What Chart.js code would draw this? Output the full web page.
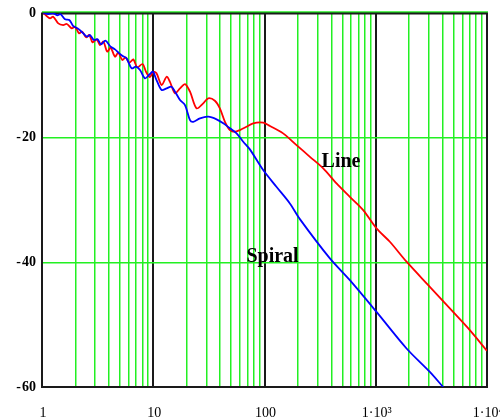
<!DOCTYPE html>
<html>
<head>
<meta charset="utf-8">
<script src="https://cdn.jsdelivr.net/npm/chart.js@4/dist/chart.umd.min.js"></script>
<style>
  html, body { margin: 0; padding: 0; background: #ffffff; }
  #wrap { width: 500px; height: 419px; }
</style>
</head>
<body>
<div id="wrap"><canvas id="c" width="500" height="419"></canvas></div>
<script>
// ---- data (frequency, level) ----
const lineFreq = [1.03,1.10,1.18,1.26,1.40,1.55,1.67,1.85,1.98,2.15,2.30,2.49,2.66,2.85,3.10,3.32,3.56,3.86,4.14,4.53,4.85,5.27,5.65,6.09,6.62,7.18,8.02,8.60,9.33,10.0,
  10.7,11.9,13.2,14.1,15.7,17.4,19.3,21.4,24.5,28.1,31.2,35.8,39.7,44.1,48.9,54.2,60.1,69.0,79.1,97.3,112,147,194,256,337,444,585,771,1016,1339,1892,3063,4634,7003,10000];
const lineLevel = [0,-0.48,-0.86,-0.59,-1.66,-1.93,-1.77,-2.46,-2.19,-3.26,-3.0,-3.9,-3.53,-4.71,-4.22,-5.14,-4.6,-6.2,-5.56,-7.0,-6.37,-7.54,-7.12,-7.97,-7.44,-8.72,-8.19,-9.42,-10.3,-9.42,
  -9.68,-11.56,-10.22,-11.0,-12.89,-12.09,-11.4,-12.63,-15.3,-14.5,-13.69,-14.08,-15.3,-17.45,-18.78,-19.05,-18.78,-18.25,-17.7,-17.6,-18.14,-19.31,-21.19,-23.07,-24.93,-27.34,-29.49,-31.62,-34.56,-36.7,-39.9,-43.93,-47.4,-50.88,-54.2];

const spiralFreq = [1.03,1.14,1.26,1.37,1.47,1.61,1.76,1.91,2.08,2.22,2.38,2.55,2.70,2.93,3.16,3.39,3.71,4.14,4.53,4.95,5.31,5.76,6.39,7.0,7.6,8.42,9.15,9.8,
  10.0,10.7,11.9,13.2,14.6,15.7,17.4,19.3,21.4,22.9,26.3,31.2,37.1,42.6,48.9,56.1,64.4,73.9,97.3,128,169,208,387,585,1016,1892,3063,4034];
const spiralLevel = [0,-0.16,-0.05,-0.37,-0.21,-1.02,-1.12,-2.09,-2.46,-2.84,-3.37,-3.8,-3.53,-4.33,-4.22,-5.03,-4.44,-5.4,-5.83,-6.48,-6.9,-7.28,-8.88,-8.62,-9.15,-10.49,-9.95,-9.42,
  -9.42,-10.75,-12.36,-12.09,-11.83,-12.63,-13.96,-14.77,-17.17,-17.45,-16.9,-16.64,-17.06,-17.7,-18.5,-19.31,-20.65,-21.88,-25.2,-27.88,-30.55,-33.07,-39.37,-42.86,-47.95,-53.82,-57.58,-60];

const xTickValues = [1,10,100,1000,10000];
const xTickLabels = ['1','10','100','1\u00B710\u00B3','1\u00B710\u2074'];
const yTickValues = [0,-20,-40,-60];

const curveNames = ['Line','Spiral'];
const nameFreq = [326, 68.8];
const nameLevel = [-24.67, -40];

const GREEN = '#22f022';
const BLACK = '#1a1a1a';
const SERIF = '"Liberation Serif", "Times New Roman", serif';

function pts(xs, ys) { return xs.map((x, i) => ({ x: x, y: ys[i] })); }

// all 1..9 x decade positions for the grid
const gridTicks = [];
for (let d = 1; d <= 1000; d *= 10) for (let m = 1; m < 10; m++) gridTicks.push(m * d);
gridTicks.push(10000);

const frameAndNames = {
  id: 'frameAndNames',
  beforeDatasetsDraw(chart) {
    const { ctx, chartArea: a } = chart;
    ctx.save();
    ctx.strokeStyle = GREEN;
    ctx.lineWidth = 1.5;
    ctx.beginPath(); ctx.moveTo(a.left, a.top - 1); ctx.lineTo(a.right + 1, a.top - 1); ctx.stroke();
    ctx.strokeStyle = BLACK;
    ctx.lineWidth = 2;
    ctx.strokeRect(a.left, a.top + 0.5, a.right - a.left, a.bottom - a.top - 0.5);
    ctx.restore();
  },
  afterDatasetsDraw(chart) {
    const { ctx } = chart;
    const xs = chart.scales.x, ys = chart.scales.y;
    ctx.save();
    ctx.fillStyle = '#000';
    ctx.font = 'bold 20px ' + SERIF;
    ctx.textAlign = 'left';
    ctx.textBaseline = 'alphabetic';
    curveNames.forEach((n, i) => {
      ctx.fillText(n, xs.getPixelForValue(nameFreq[i]), ys.getPixelForValue(nameLevel[i]));
    });
    ctx.restore();
  }
};

new Chart(document.getElementById('c'), {
  type: 'line',
  data: {
    datasets: [
      { label: 'Spiral', data: pts(spiralFreq, spiralLevel), borderColor: '#0000ff', borderWidth: 1.8, pointRadius: 0, tension: 0.3, fill: false },
      { label: 'Line', data: pts(lineFreq, lineLevel), borderColor: '#ff0000', borderWidth: 1.8, pointRadius: 0, tension: 0.3, fill: false }
    ]
  },
  options: {
    responsive: false,
    animation: false,
    events: [],
    layout: { padding: { top: 13, right: 13, left: 0, bottom: 0 } },
    plugins: { legend: { display: false }, tooltip: { enabled: false } },
    scales: {
      x: {
        type: 'logarithmic',
        min: 1, max: 10000,
        afterBuildTicks(scale) { scale.ticks = gridTicks.map(v => ({ value: v })); },
        afterFit(scale) { scale.height = 32; scale.paddingLeft = 0; scale.paddingRight = 0; },
        border: { display: false },
        grid: {
          drawTicks: false,
          color: c => (xTickValues.indexOf(c.tick.value) >= 0 ? BLACK : GREEN),
          lineWidth: c => (xTickValues.indexOf(c.tick.value) >= 0 ? 2 : 1.5)
        },
        ticks: {
          autoSkip: false,
          maxRotation: 0,
          padding: 18,
          labelOffset: 1,
          color: '#000',
          font: { family: SERIF, size: 14 },
          callback(v) { const i = xTickValues.indexOf(v); return i >= 0 ? xTickLabels[i] : ''; }
        }
      },
      y: {
        type: 'linear',
        min: -60, max: 0,
        afterBuildTicks(scale) { scale.ticks = yTickValues.map(v => ({ value: v })); },
        afterFit(scale) { scale.width = 42; scale.paddingTop = 0; scale.paddingBottom = 0; },
        border: { display: false },
        grid: { drawTicks: false, color: GREEN, lineWidth: 1.5 },
        ticks: {
          padding: 6,
          color: '#000',
          font: { family: SERIF, size: 14, weight: 'bold' },
          callback(v) { return v < 0 ? '-\u200A' + Math.abs(v) : String(v); }
        }
      }
    }
  },
  plugins: [frameAndNames]
});
</script>
</body>
</html>
